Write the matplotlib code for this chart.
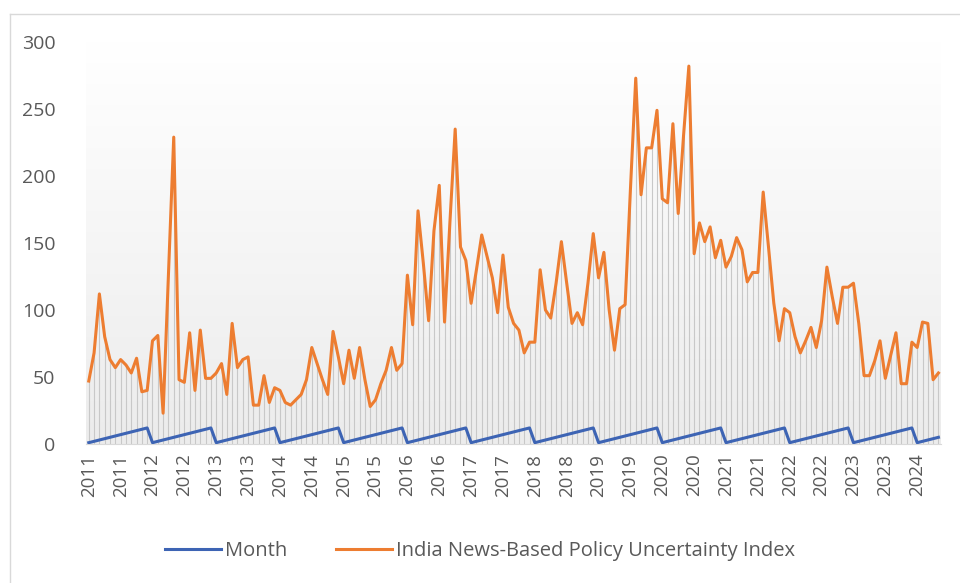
import numpy as np
import matplotlib
matplotlib.use('Agg')
import matplotlib.pyplot as plt
from matplotlib.lines import Line2D

plt.rcParams['font.family'] = ['Open Sans', 'DejaVu Sans']

# monthly data, Jan 2011 .. May 2024
years = list(range(2011, 2025))
month = [m for y in years for m in range(1, 13)][:161]
epu = [
    47, 68, 112, 80, 63, 57, 63, 59, 53, 64, 39, 40,          # 2011
    77, 81, 23, 125, 229, 48, 46, 83, 40, 85, 49, 49,         # 2012
    53, 60, 37, 90, 57, 63, 65, 29, 29, 51, 31, 42,           # 2013
    40, 31, 29, 33, 37, 48, 72, 60, 48, 37, 84, 65,           # 2014
    45, 70, 49, 72, 48, 28, 33, 45, 55, 72, 55, 60,           # 2015
    126, 89, 174, 135, 92, 159, 193, 91, 165, 235, 147, 137,  # 2016
    105, 130, 156, 140, 124, 98, 141, 102, 90, 85, 68, 76,    # 2017
    76, 130, 100, 94, 120, 151, 120, 90, 98, 89, 120, 157,    # 2018
    124, 143, 100, 70, 101, 104, 190, 273, 186, 221, 221, 249,  # 2019
    183, 180, 239, 172, 230, 282, 142, 165, 151, 162, 139, 152,  # 2020
    132, 140, 154, 145, 121, 128, 128, 188, 147, 105, 77, 101,   # 2021
    98, 80, 68, 77, 87, 72, 92, 132, 110, 90, 117, 117,          # 2022
    120, 90, 51, 51, 62, 77, 49, 66, 83, 45, 45, 76,             # 2023
    72, 91, 90, 48, 53,                                          # 2024
]
dates = [(y, m) for y in years for m in range(1, 13)][:161]
tick_labels = [str(y) for (y, m) in dates if m in (1, 7)]

x = np.arange(len(epu))

fig = plt.figure(figsize=(9.6, 5.83), dpi=100)
ax = fig.add_axes([0.0897, 0.2384, 0.8906, 0.6896])

# plot area gradient
grad = np.linspace(0, 1, 256).reshape(-1, 1)
cmap = matplotlib.colors.LinearSegmentedColormap.from_list('bg', ['#ffffff', '#ececec'])
ax.imshow(grad, aspect='auto', cmap=cmap, extent=[-0.5, len(epu) - 0.5, 0, 300],
          origin='upper', zorder=0)

# drop lines
ax.vlines(x, 0, epu, color='#c8c8c8', lw=0.8, zorder=1)

ax.plot(x, month, color='#3d64b4', lw=2.2, zorder=3, solid_joinstyle='round')
ax.plot(x, epu, color='#ed7d31', lw=2.2, zorder=3, solid_joinstyle='round')

ax.set_xlim(-0.5, len(epu) - 0.5)
ax.set_ylim(0, 300)
ax.set_yticks(range(0, 301, 50))
ax.set_xticks([i for i, (y, m) in enumerate(dates) if m in (1, 7)])
ax.set_xticklabels(tick_labels, rotation=90)
ax.tick_params(axis='both', length=0, colors='#595959')
ax.tick_params(axis='x', pad=7, labelsize=13.5)
ax.tick_params(axis='y', pad=22, labelsize=14)
for s in ['top', 'right', 'left']:
    ax.spines[s].set_visible(False)
ax.spines['bottom'].set_color('#d9d9d9')

handles = [Line2D([], [], color='#3d64b4', lw=2.2),
           Line2D([], [], color='#ed7d31', lw=2.2)]
fig.legend(handles, ['Month', 'India News-Based Policy Uncertainty Index'],
           loc='center', bbox_to_anchor=(0.5, 1 - 551 / 583), ncol=2, frameon=False,
           fontsize=14.5, labelcolor='#595959', handlelength=2.8, handletextpad=0.2,
           columnspacing=2.4)

# chart border
fig.add_artist(Line2D([10 / 960, 10 / 960], [0, 1 - 14 / 583], color='#d9d9d9', lw=1,
                      transform=fig.transFigure))
fig.add_artist(Line2D([10 / 960, 1], [1 - 14 / 583, 1 - 14 / 583], color='#d9d9d9', lw=1,
                      transform=fig.transFigure))

fig.savefig('out.png', dpi=100)
